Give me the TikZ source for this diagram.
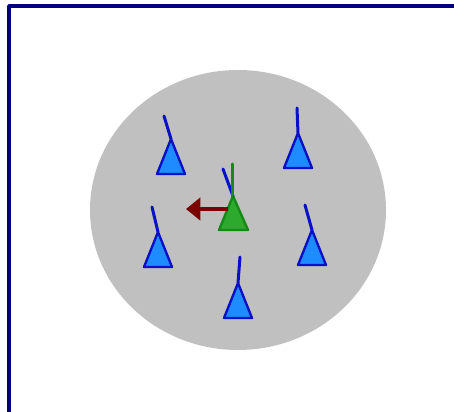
\documentclass[tikz,border=0pt]{standalone}
\usetikzlibrary{arrows.meta,calc}
\definecolor{cFrame}{HTML}{000080}
\definecolor{cArena}{HTML}{C0C0C0}
\definecolor{cAgent}{HTML}{1E8CFF}
\definecolor{cAgentLine}{HTML}{0A10C8}
\definecolor{cLeader}{HTML}{2DAA2D}
\definecolor{cLeaderLine}{HTML}{168A16}
\definecolor{cPush}{HTML}{7A0000}

% ---- Agent: triangle body hanging from apex, heading stick ----
\newcommand{\agent}[5]{%
  \coordinate (#1) at (#2,#3);
  \filldraw[agentbody] ($(#1)+(-14,35)$) -- (#1) -- ($(#1)+(14,35)$) -- cycle;
  \draw[heading] (#1) -- ++(#4,#5);}

\begin{document}
\begin{tikzpicture}[
  x=0.25mm, y=-0.25mm,
  line cap=round, line join=round,
  frame/.style={draw=cFrame, line width=0.85mm, line cap=butt},
  agentbody/.style={fill=cAgent, draw=cAgentLine, line width=0.6mm},
  leaderbody/.style={fill=cLeader, draw=cLeaderLine, line width=0.6mm},
  heading/.style={draw=cAgentLine, line width=0.75mm},
  leaderheading/.style={draw=cLeaderLine, line width=0.75mm},
  push/.style={draw=cPush, line width=0.85mm, line cap=butt,
    -{Triangle[length=3.6mm,width=5.6mm]}},
]
\useasboundingbox (0,0) rectangle (454,412);

% ---- Frame (top and left edge only) ----
\draw[frame] (9,412) -- (9,6) -- (454,6);

% ---- Arena ----
\coordinate (arenaC) at (238,210);
\fill[cArena] (arenaC) ellipse [x radius=148, y radius=140];

% ---- Blue agents ----
\agent{a1}{171}{139}{-7}{-23}
\agent{a2}{298}{133}{-1}{-25}
\agent{a3}{158}{232}{-6}{-25}
\agent{a4}{312}{230}{-7}{-25}
\agent{a5}{238}{283}{2}{-26}

% ---- Green leader ----
\coordinate (lead) at (233,196);
\filldraw[leaderbody] ($(lead)+(-14,34)$) -- (lead) -- ($(lead)+(15,34)$) -- cycle;
\draw[heading] (lead) -- ++(-10,-27);
\draw[leaderheading] (lead) -- ++(0,-32);

% ---- Push arrow ----
\coordinate (pushfrom) at (228,209);
\coordinate (pushto) at (186,209);
\draw[push] (pushfrom) -- (pushto);

\end{tikzpicture}
\end{document}
